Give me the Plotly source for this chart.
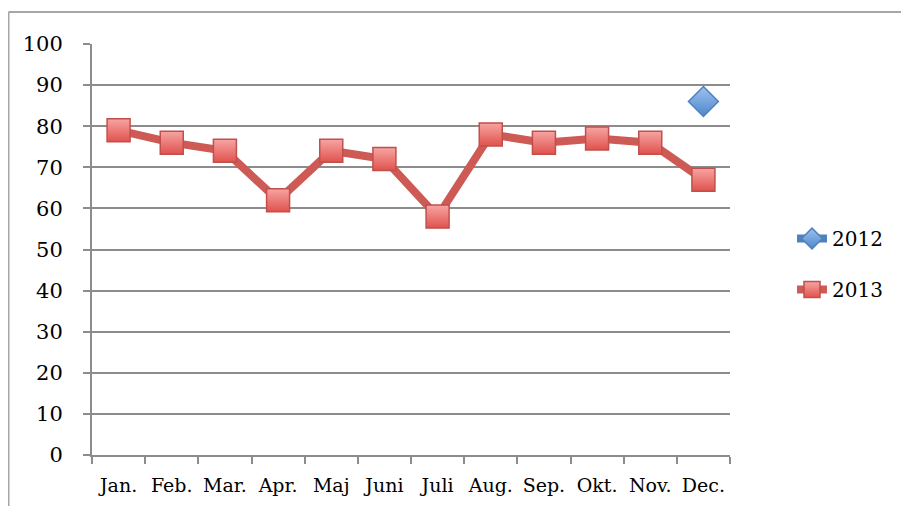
import plotly.graph_objects as go

months = ["Jan.", "Feb.", "Mar.", "Apr.", "Maj", "Juni", "Juli", "Aug.", "Sep.", "Okt.", "Nov.", "Dec."]
values_2012 = [None, None, None, None, None, None, None, None, None, None, None, 86]
values_2013 = [79, 76, 74, 62, 74, 72, 58, 78, 76, 77, 76, 67]
y_ticks = [0, 10, 20, 30, 40, 50, 60, 70, 80, 90, 100]

# page body has an 8px margin, so figure coords = screen coords - 8
OFF = 8
W, H = 909 - OFF, 506 - OFF
L, R, T, B = 92 - OFF, 730 - OFF, 44 - OFF, 455 - OFF
FONT = "DejaVu Serif"

fig = go.Figure()
fig.add_trace(go.Scatter(
    x=months, y=values_2012, name="2012", mode="lines+markers",
    legendgroup="a",
    line=dict(color="#4f81bd", width=8),
    marker=dict(symbol="diamond", size=23, color="#9cc3f0",
                gradient=dict(type="vertical", color="#4f86cc"),
                line=dict(color="#4f81bd", width=1.5)),
))
fig.add_trace(go.Scatter(
    x=months, y=values_2013, name="2013", mode="lines+markers",
    legendgroup="b",
    line=dict(color="#cd5a55", width=8),
    marker=dict(symbol="square", size=23, color="#f7a5a3",
                gradient=dict(type="vertical", color="#e0524d"),
                line=dict(color="#c0504d", width=1.5)),
))

bx = (8.5 - OFF - L) / (R - L)
by = (B - (12 - OFF)) / (B - T)
border = dict(color="#a6a6a6", width=2)
fig.add_shape(type="line", xref="paper", yref="paper", x0=bx, x1=2.0, y0=by, y1=by,
              line=border, layer="below")
fig.add_shape(type="line", xref="paper", yref="paper", x0=bx, x1=bx, y0=-1.0, y1=by,
              line=border, layer="below")

fig.update_layout(
    width=W, height=H,
    margin=dict(l=L, r=W - R, t=T, b=H - B, pad=0, autoexpand=False),
    plot_bgcolor="white", paper_bgcolor="white",
    font=dict(family=FONT, size=19, color="black"),
    showlegend=True,
    legend=dict(x=(792 - OFF - L) / (R - L), y=(B - (264 - OFF)) / (B - T),
                xanchor="left", yanchor="middle",
                tracegroupgap=22, font=dict(family=FONT, size=20), itemwidth=30,
                bgcolor="rgba(0,0,0,0)"),
    xaxis=dict(type="category", categoryorder="array", categoryarray=months,
               range=[-0.5, 11.5], tickson="boundaries", ticks="outside", ticklen=7,
               tickcolor="#8c8c8c", tickwidth=2, showline=True, linecolor="#8c8c8c", linewidth=2,
               showgrid=False, ticklabelstandoff=12, tickangle=0, automargin=False,
               tickfont=dict(family=FONT, size=19)),
    yaxis=dict(range=[0, 100], tickvals=y_ticks, ticks="outside", ticklen=7,
               tickcolor="#8c8c8c", tickwidth=2, showline=True, linecolor="#8c8c8c", linewidth=2,
               showgrid=True, gridcolor="#8c8c8c", gridwidth=2, zeroline=False,
               ticklabelstandoff=16, automargin=False, tickfont=dict(family=FONT, size=21)),
)

fig.write_html("out.html")
